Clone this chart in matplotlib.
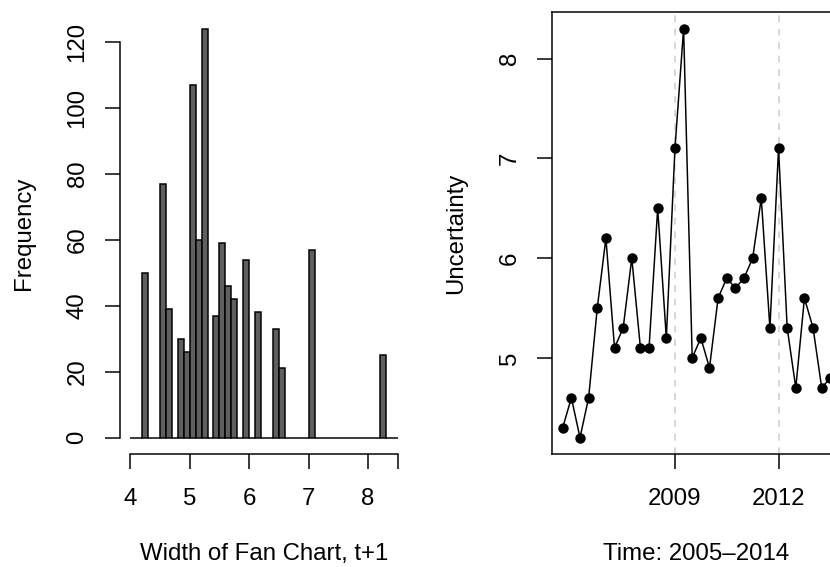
import numpy as np
import matplotlib
matplotlib.use("Agg")
import matplotlib.pyplot as plt

# histogram of fan chart widths (bins of 0.1, only non-empty ones listed)
bin_left = [4.2, 4.5, 4.6, 4.8, 4.9, 5.0, 5.1, 5.2, 5.4, 5.5, 5.6, 5.7,
            5.9, 6.1, 6.4, 6.5, 7.0, 8.2]
bin_count = [50, 77, 39, 30, 26, 107, 60, 124, 37, 59, 46, 42,
             54, 38, 33, 21, 57, 25]
hist_ticks = [4, 5, 6, 7, 8, 8.5]
hist_ticklabels = ["4", "5", "6", "7", "8", ""]

# quarterly uncertainty series, starting 2005 Q4
start_year = 2005.75
uncertainty = [4.3, 4.6, 4.2, 4.6, 5.5, 6.2, 5.1, 5.3, 6.0, 5.1, 5.1, 6.5,
               5.2, 7.1, 8.3, 5.0, 5.2, 4.9, 5.6, 5.8, 5.7, 5.8, 6.0, 6.6,
               5.3, 7.1, 5.3, 4.7, 5.6, 5.3, 4.7, 4.8]
year_marks = [2009, 2012]

plt.rcParams["font.family"] = ["Liberation Sans", "DejaVu Sans"]
plt.rcParams["font.size"] = 12
plt.rcParams["axes.linewidth"] = 0.75

fig = plt.figure(figsize=(830 / 144, 567 / 144), dpi=144)

# ---- left: histogram ----
ax1 = fig.add_axes([0.1440, 0.1993, 0.3482, 0.7787])
edges = np.round(np.arange(4.0, 8.501, 0.1), 2)
ax1.hist(np.array(bin_left) + 0.05, bins=edges, weights=bin_count,
         color="#5f5f5f", edgecolor="black", linewidth=0.75)
ax1.set_xlim(3.82, 8.68)
ax1.set_ylim(-4.96, 128.96)
ax1.spines["top"].set_visible(False)
ax1.spines["right"].set_visible(False)
ax1.spines["left"].set_bounds(0, 120)
ax1.spines["bottom"].set_bounds(4, 8.5)
ax1.set_xticks(hist_ticks)
ax1.set_xticklabels(hist_ticklabels)
ax1.set_yticks([0, 20, 40, 60, 80, 100, 120])
ax1.tick_params(length=7.5, width=0.75)
ax1.tick_params(axis="x", pad=9.5)
ax1.tick_params(axis="y", pad=8, labelrotation=90)
for lab in ax1.get_yticklabels():
    lab.set_va("center")
ax1.set_xlabel("Width of Fan Chart, t+1", labelpad=16.5)
ax1.set_ylabel("Frequency", labelpad=16)

# ---- right: time series ----
ax2 = fig.add_axes([0.6651, 0.1993, 0.3482, 0.7787])
t = start_year + np.arange(len(uncertainty)) / 4
for yr in year_marks:
    ax2.axvline(yr, color="#cccccc", linestyle=(0, (4.5, 4.5)), linewidth=0.75, zorder=1)
ax2.plot(t, uncertainty, color="black", linewidth=0.75, marker="o",
         markersize=4.2, zorder=3)
ax2.set_xlim(2005.44, 2013.81)
ax2.set_ylim(4.036, 8.464)
ax2.set_xticks(year_marks)
ax2.set_yticks([5, 6, 7, 8])
ax2.tick_params(length=7.5, width=0.75)
ax2.tick_params(axis="x", pad=9.5)
ax2.tick_params(axis="y", pad=8, labelrotation=90)
for lab in ax2.get_yticklabels():
    lab.set_va("center")
ax2.set_xlabel("Time: 2005\u20132014", labelpad=16.5)
ax2.set_ylabel("Uncertainty", labelpad=16)

fig.savefig("out.png", dpi=144)
